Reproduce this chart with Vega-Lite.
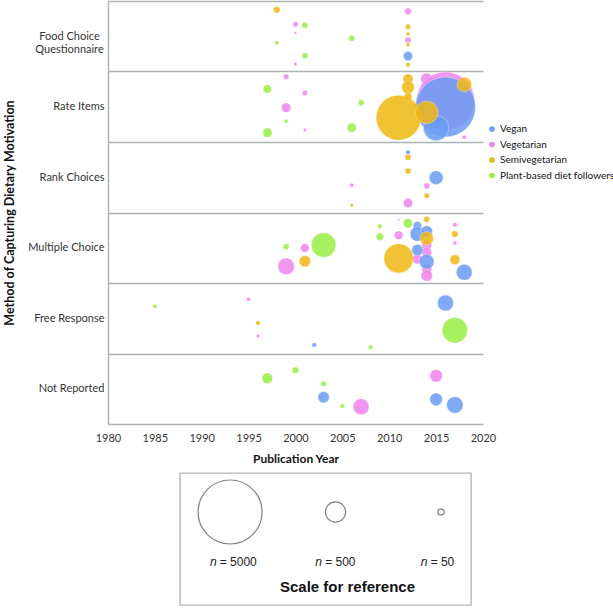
{
  "$schema": "https://vega.github.io/schema/vega-lite/v6.json",
  "padding": {"left": 3, "top": 1, "right": 40, "bottom": 3},
  "spacing": 8,
  "config": {
    "font": "Lato",
    "axis": {"labelColor": "#333333", "titleColor": "#111111"}
  },
  "vconcat": [
    {
      "width": 375,
      "height": 423,
      "view": {"stroke": null},
      "data": {
        "values": [
          {"diet": "Vegetarian", "method": "Food Choice Questionnaire", "year": 2000, "y": 5.670, "n": 35},
          {"diet": "Vegetarian", "method": "Food Choice Questionnaire", "year": 2000, "y": 5.546, "n": 8},
          {"diet": "Vegetarian", "method": "Food Choice Questionnaire", "year": 2000, "y": 5.106, "n": 14},
          {"diet": "Vegetarian", "method": "Food Choice Questionnaire", "year": 2012, "y": 5.854, "n": 53},
          {"diet": "Vegetarian", "method": "Food Choice Questionnaire", "year": 2012, "y": 5.443, "n": 44},
          {"diet": "Vegetarian", "method": "Rate Items", "year": 1999, "y": 4.926, "n": 35},
          {"diet": "Vegetarian", "method": "Rate Items", "year": 2001, "y": 4.695, "n": 35},
          {"diet": "Vegetarian", "method": "Rate Items", "year": 1999, "y": 4.487, "n": 107},
          {"diet": "Vegetarian", "method": "Rate Items", "year": 2001, "y": 4.170, "n": 14},
          {"diet": "Vegetarian", "method": "Rate Items", "year": 2014, "y": 4.894, "n": 176},
          {"diet": "Vegetarian", "method": "Rate Items", "year": 2016, "y": 4.582, "n": 4107},
          {"diet": "Vegetarian", "method": "Rate Items", "year": 2018, "y": 4.067, "n": 20},
          {"diet": "Vegetarian", "method": "Rank Choices", "year": 2006, "y": 3.386, "n": 20},
          {"diet": "Vegetarian", "method": "Rank Choices", "year": 2014, "y": 3.376, "n": 44},
          {"diet": "Vegetarian", "method": "Rank Choices", "year": 2012, "y": 3.135, "n": 107},
          {"diet": "Vegetarian", "method": "Multiple Choice", "year": 2011, "y": 2.677, "n": 90},
          {"diet": "Vegetarian", "method": "Multiple Choice", "year": 2014, "y": 2.539, "n": 122},
          {"diet": "Vegetarian", "method": "Multiple Choice", "year": 2014, "y": 2.435, "n": 122},
          {"diet": "Vegetarian", "method": "Multiple Choice", "year": 2013, "y": 2.340, "n": 122},
          {"diet": "Vegetarian", "method": "Multiple Choice", "year": 2014, "y": 2.199, "n": 122},
          {"diet": "Vegetarian", "method": "Multiple Choice", "year": 2014, "y": 2.104, "n": 158},
          {"diet": "Vegetarian", "method": "Multiple Choice", "year": 2001, "y": 2.496, "n": 90},
          {"diet": "Vegetarian", "method": "Multiple Choice", "year": 1999, "y": 2.237, "n": 336},
          {"diet": "Vegetarian", "method": "Multiple Choice", "year": 2017, "y": 2.827, "n": 26},
          {"diet": "Vegetarian", "method": "Multiple Choice", "year": 2017, "y": 2.567, "n": 20},
          {"diet": "Vegetarian", "method": "Free Response", "year": 1995, "y": 1.769, "n": 20},
          {"diet": "Vegetarian", "method": "Free Response", "year": 1996, "y": 1.248, "n": 14},
          {"diet": "Vegetarian", "method": "Not Reported", "year": 2007, "y": 0.245, "n": 312},
          {"diet": "Vegetarian", "method": "Not Reported", "year": 2015, "y": 0.685, "n": 194},
          {"diet": "Vegan", "method": "Food Choice Questionnaire", "year": 2012, "y": 5.220, "n": 107},
          {"diet": "Vegan", "method": "Rate Items", "year": 2016, "y": 4.496, "n": 4395},
          {"diet": "Vegan", "method": "Rate Items", "year": 2015, "y": 4.199, "n": 788},
          {"diet": "Vegan", "method": "Rank Choices", "year": 2012, "y": 3.854, "n": 26},
          {"diet": "Vegan", "method": "Rank Choices", "year": 2015, "y": 3.494, "n": 239},
          {"diet": "Vegan", "method": "Multiple Choice", "year": 2011, "y": 2.898, "n": 5},
          {"diet": "Vegan", "method": "Multiple Choice", "year": 2013, "y": 2.813, "n": 90},
          {"diet": "Vegan", "method": "Multiple Choice", "year": 2013, "y": 2.695, "n": 262},
          {"diet": "Vegan", "method": "Multiple Choice", "year": 2014, "y": 2.733, "n": 158},
          {"diet": "Vegan", "method": "Multiple Choice", "year": 2013, "y": 2.468, "n": 158},
          {"diet": "Vegan", "method": "Multiple Choice", "year": 2014, "y": 2.302, "n": 262},
          {"diet": "Vegan", "method": "Multiple Choice", "year": 2018, "y": 2.152, "n": 312},
          {"diet": "Vegan", "method": "Free Response", "year": 2002, "y": 1.121, "n": 26},
          {"diet": "Vegan", "method": "Free Response", "year": 2016, "y": 1.716, "n": 312},
          {"diet": "Vegan", "method": "Not Reported", "year": 2003, "y": 0.379, "n": 158},
          {"diet": "Vegan", "method": "Not Reported", "year": 2015, "y": 0.350, "n": 194},
          {"diet": "Vegan", "method": "Not Reported", "year": 2017, "y": 0.270, "n": 336},
          {"diet": "Semivegetarian", "method": "Food Choice Questionnaire", "year": 1998, "y": 5.877, "n": 53},
          {"diet": "Semivegetarian", "method": "Food Choice Questionnaire", "year": 2012, "y": 5.635, "n": 35},
          {"diet": "Semivegetarian", "method": "Food Choice Questionnaire", "year": 2012, "y": 5.532, "n": 20},
          {"diet": "Semivegetarian", "method": "Food Choice Questionnaire", "year": 2012, "y": 5.380, "n": 20},
          {"diet": "Semivegetarian", "method": "Food Choice Questionnaire", "year": 2012, "y": 5.096, "n": 26},
          {"diet": "Semivegetarian", "method": "Rate Items", "year": 2011, "y": 4.345, "n": 2472},
          {"diet": "Semivegetarian", "method": "Rate Items", "year": 2012, "y": 4.894, "n": 122},
          {"diet": "Semivegetarian", "method": "Rate Items", "year": 2012, "y": 4.776, "n": 194},
          {"diet": "Semivegetarian", "method": "Rate Items", "year": 2012, "y": 4.643, "n": 78},
          {"diet": "Semivegetarian", "method": "Rate Items", "year": 2014, "y": 4.421, "n": 624},
          {"diet": "Semivegetarian", "method": "Rate Items", "year": 2018, "y": 4.813, "n": 262},
          {"diet": "Semivegetarian", "method": "Rank Choices", "year": 2012, "y": 3.783, "n": 44},
          {"diet": "Semivegetarian", "method": "Rank Choices", "year": 2012, "y": 3.589, "n": 44},
          {"diet": "Semivegetarian", "method": "Rank Choices", "year": 2006, "y": 3.102, "n": 14},
          {"diet": "Semivegetarian", "method": "Rank Choices", "year": 2014, "y": 3.238, "n": 35},
          {"diet": "Semivegetarian", "method": "Multiple Choice", "year": 2014, "y": 2.904, "n": 44},
          {"diet": "Semivegetarian", "method": "Multiple Choice", "year": 2014, "y": 2.634, "n": 219},
          {"diet": "Semivegetarian", "method": "Multiple Choice", "year": 2011, "y": 2.350, "n": 1055},
          {"diet": "Semivegetarian", "method": "Multiple Choice", "year": 2001, "y": 2.308, "n": 158},
          {"diet": "Semivegetarian", "method": "Multiple Choice", "year": 2017, "y": 2.695, "n": 53},
          {"diet": "Semivegetarian", "method": "Multiple Choice", "year": 2017, "y": 2.330, "n": 122},
          {"diet": "Semivegetarian", "method": "Free Response", "year": 1996, "y": 1.433, "n": 26},
          {"diet": "Plant-based diet followers", "method": "Food Choice Questionnaire", "year": 2001, "y": 5.655, "n": 44},
          {"diet": "Plant-based diet followers", "method": "Food Choice Questionnaire", "year": 1998, "y": 5.409, "n": 20},
          {"diet": "Plant-based diet followers", "method": "Food Choice Questionnaire", "year": 2001, "y": 5.224, "n": 44},
          {"diet": "Plant-based diet followers", "method": "Food Choice Questionnaire", "year": 2006, "y": 5.471, "n": 44},
          {"diet": "Plant-based diet followers", "method": "Rate Items", "year": 1997, "y": 4.752, "n": 90},
          {"diet": "Plant-based diet followers", "method": "Rate Items", "year": 1999, "y": 4.294, "n": 20},
          {"diet": "Plant-based diet followers", "method": "Rate Items", "year": 1997, "y": 4.132, "n": 107},
          {"diet": "Plant-based diet followers", "method": "Rate Items", "year": 2007, "y": 4.557, "n": 44},
          {"diet": "Plant-based diet followers", "method": "Rate Items", "year": 2006, "y": 4.203, "n": 107},
          {"diet": "Plant-based diet followers", "method": "Multiple Choice", "year": 2012, "y": 2.847, "n": 107},
          {"diet": "Plant-based diet followers", "method": "Multiple Choice", "year": 2009, "y": 2.804, "n": 26},
          {"diet": "Plant-based diet followers", "method": "Multiple Choice", "year": 2009, "y": 2.657, "n": 67},
          {"diet": "Plant-based diet followers", "method": "Multiple Choice", "year": 1999, "y": 2.515, "n": 44},
          {"diet": "Plant-based diet followers", "method": "Multiple Choice", "year": 2003, "y": 2.539, "n": 739},
          {"diet": "Plant-based diet followers", "method": "Free Response", "year": 1985, "y": 1.670, "n": 20},
          {"diet": "Plant-based diet followers", "method": "Free Response", "year": 2008, "y": 1.088, "n": 26},
          {"diet": "Plant-based diet followers", "method": "Free Response", "year": 2017, "y": 1.329, "n": 788},
          {"diet": "Plant-based diet followers", "method": "Not Reported", "year": 1997, "y": 0.648, "n": 137},
          {"diet": "Plant-based diet followers", "method": "Not Reported", "year": 2000, "y": 0.762, "n": 53},
          {"diet": "Plant-based diet followers", "method": "Not Reported", "year": 2003, "y": 0.572, "n": 35},
          {"diet": "Plant-based diet followers", "method": "Not Reported", "year": 2005, "y": 0.255, "n": 26}
        ]
      },
      "mark": {"type": "circle", "opacity": 0.85, "stroke": "#ffffff", "strokeWidth": 0.6, "strokeOpacity": 0.6},
      "encoding": {
        "x": {
          "field": "year", "type": "quantitative",
          "scale": {"domain": [1980, 2020], "nice": false, "zero": false},
          "axis": {
            "values": [1980, 1985, 1990, 1995, 2000, 2005, 2010, 2015, 2020],
            "format": "d", "title": "Publication Year", "grid": false, "domain": false, "ticks": false,
            "labelFlush": false, "labelPadding": 8, "labelFontSize": 11,
            "titleFontSize": 12, "titleFontWeight": "bold", "titlePadding": 10
          }
        },
        "y": {
          "field": "y", "type": "quantitative",
          "scale": {"domain": [0, 6], "nice": false, "zero": false},
          "axis": {
            "values": [0, 0.5, 1, 1.5, 2, 2.5, 3, 3.5, 4, 4.5, 5, 5.5, 6],
            "title": "Method of Capturing Dietary Motivation",
            "grid": true, "gridColor": "#aab3b3", "gridWidth": 1.4,
            "gridOpacity": {"condition": {"test": "datum.value % 1 != 0", "value": 0}, "value": 1},
            "ticks": false, "domainColor": "#aab3b3", "domainWidth": 1.4,
            "labelOverlap": false,
            "labelFontSize": {"condition": {"test": "datum.value % 1 == 0", "value": 0}, "value": 11},
            "labelAlign": {"condition": {"test": "datum.value == 5.5", "value": "center"}, "value": "right"},
            "labelPadding": {"condition": {"test": "datum.value == 5.5", "value": 39}, "value": 4},
            "labelExpr": "datum.value == 5.5 ? ['Food Choice', 'Questionnaire'] : datum.value == 4.5 ? 'Rate Items' : datum.value == 3.5 ? 'Rank Choices' : datum.value == 2.5 ? 'Multiple Choice' : datum.value == 1.5 ? 'Free Response' : datum.value == 0.5 ? 'Not Reported' : ''",
            "titleFontSize": 12.5, "titleFontWeight": "bold", "titlePadding": 11
          }
        },
        "color": {
          "field": "diet", "type": "nominal",
          "scale": {
            "domain": ["Vegan", "Vegetarian", "Semivegetarian", "Plant-based diet followers"],
            "range": ["#6b9df3", "#ef84ee", "#f0b812", "#98ef46"]
          },
          "legend": {
            "title": null, "orient": "none", "legendX": 379, "legendY": 123,
            "symbolType": "circle", "symbolSize": 32, "labelFontSize": 10, "labelLimit": 0, "labelOffset": 3,
            "rowPadding": 5.5, "labelColor": "#111111", "symbolStrokeWidth": 0, "symbolOpacity": 1
          }
        },
        "size": {
          "field": "n", "type": "quantitative",
          "scale": {"domain": [0, 5000], "range": [0, 4096]},
          "legend": null
        }
      }
    },
    {
      "spacing": 10,
      "hconcat": [
        {
          "width": 61,
          "height": 132,
          "view": {"stroke": null},
          "data": {"values": []},
          "mark": {"type": "point"}
        },
        {
          "width": 291,
          "height": 132,
          "view": {"stroke": "#b0b8b8", "strokeWidth": 1.4},
          "data": {"values": [{"n": 5000}, {"n": 500}, {"n": 50}]},
          "encoding": {
            "x": {"field": "n", "type": "ordinal", "sort": "descending", "scale": {"type": "point", "padding": 0.38, "align": 0.625}, "axis": null}
          },
          "layer": [
            {
              "mark": {"type": "point", "shape": "circle", "filled": false, "stroke": "#808080", "strokeWidth": 1.2, "opacity": 1},
              "encoding": {
                "y": {"datum": 3, "type": "quantitative", "scale": {"domain": [-0.72, 4.56], "nice": false, "zero": false}, "axis": null},
                "size": {"field": "n", "type": "quantitative", "scale": {"domain": [0, 5000], "range": [0, 4096]}, "legend": null}
              }
            },
            {
              "mark": {"type": "text", "font": "Liberation Sans", "fontSize": 12, "align": "left", "baseline": "middle", "dx": 0, "color": "#222222"},
              "encoding": {
                "y": {"datum": 1, "type": "quantitative"},
                "text": {"field": "n", "type": "quantitative", "format": "d"}
              }
            },
            {
              "mark": {"type": "text", "font": "Liberation Sans", "fontSize": 12, "align": "right", "baseline": "middle", "dx": -3.3, "color": "#222222", "text": "="},
              "encoding": {
                "y": {"datum": 1, "type": "quantitative"}
              }
            },
            {
              "mark": {"type": "text", "font": "Liberation Sans", "fontSize": 12, "fontStyle": "italic", "align": "right", "baseline": "middle", "dx": -13.5, "color": "#222222", "text": "n"},
              "encoding": {
                "y": {"datum": 1, "type": "quantitative"}
              }
            },
            {
              "data": {"values": [{"caption": "Scale for reference"}]},
              "mark": {"type": "text", "font": "Liberation Sans", "fontSize": 15, "fontWeight": "bold", "baseline": "middle", "dx": 12, "color": "#111111"},
              "encoding": {
                "x": {"datum": 500},
                "y": {"datum": 0, "type": "quantitative"},
                "text": {"field": "caption", "type": "nominal"}
              }
            }
          ]
        }
      ]
    }
  ]
}
